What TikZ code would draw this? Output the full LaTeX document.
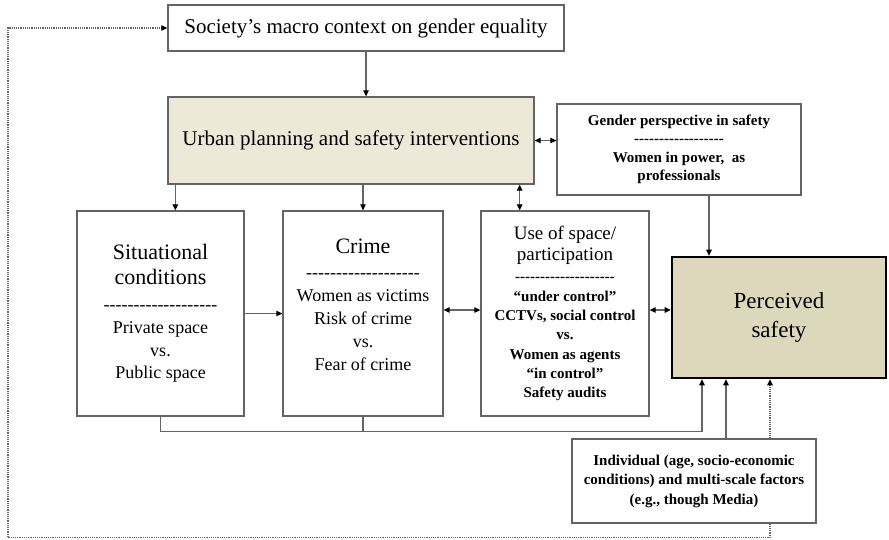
\documentclass[tikz,border=0pt]{standalone}
\usepackage{fontspec}
\setmainfont{Liberation Serif}
\usepackage{tikz}
\usetikzlibrary{arrows.meta,positioning,calc}
\definecolor{planningtan}{RGB}{236,233,216}
\definecolor{safetytan}{RGB}{221,215,188}
\definecolor{linegray}{RGB}{100,100,100}
\newcommand{\sepline}[1]{\foreach \k in {1,...,#1}{\mbox{-}}}
\newcommand{\hd}[1]{{\fontsize{22}{26}\selectfont #1}}
\newcommand{\uhd}[1]{{\mdseries\fontsize{19}{22}\selectfont #1}}

\begin{document}
\begin{tikzpicture}[x=1pt, y=-1pt,
    box/.style={draw=linegray, line width=1.3pt, align=center, inner sep=2pt},
    link/.style={draw=linegray, line width=1.2pt},
    arr/.style={link, -{Triangle[length=6pt,width=5.5pt,black]}},
    dbl/.style={link, {Triangle[length=6pt,width=5.5pt,black]}-{Triangle[length=6pt,width=5.5pt,black]}},
    dotarr/.style={arr, densely dotted}]
    \path[use as bounding box] (0,0) rectangle (889,539);

    % boxes
    \node[box, minimum width=396pt, minimum height=46pt, font=\fontsize{21}{25}\selectfont] (society) at (366,28) {Society’s macro context on gender equality};
    \node[box, fill=planningtan, minimum width=366pt, minimum height=87pt, font=\fontsize{21}{25}\selectfont] (urban) at (351,140.5) {Urban planning and safety interventions};
    \node[box, minimum width=244pt, minimum height=91pt, font=\bfseries\fontsize{15}{18.5}\selectfont] (gender) at (679,149.5) {Gender perspective in safety\\\sepline{18}\\Women in power,~ as\\professionals};
    \node[box, minimum width=167pt, minimum height=205pt, font=\fontsize{18}{22.5}\selectfont] (situational) at (160.5,313.5) {\hd{Situational}\\[3pt]\hd{conditions}\\[3pt]\sepline{19}\\[1pt]Private space\\vs.\\Public space};
    \node[box, minimum width=160pt, minimum height=205pt, font=\fontsize{18}{23}\selectfont] (crime) at (363,313.5) {\hd{Crime}\\[2pt]\sepline{19}\\Women as victims\\Risk of crime\\vs.\\Fear of crime\\[-6pt]~};
    \node[box, minimum width=168pt, minimum height=205pt, font=\bfseries\fontsize{15}{19.3}\selectfont] (usespace) at (565,313.5) {\uhd{Use of space/}\\[2pt]\uhd{participation}\\[2pt]\sepline{20}\\``under control''\\CCTVs, social control\\vs.\\Women as agents\\``in control''\\Safety audits};
    \node[box, draw=black, line width=2.6pt, fill=safetytan, minimum width=214pt, minimum height=121pt, font=\fontsize{23}{29}\selectfont] (perceived) at (779,317.5) {Perceived\\safety};
    \node[box, minimum width=244pt, minimum height=84pt, font=\bfseries\fontsize{15}{19.5}\selectfont] (individual) at (694,481) {Individual (age, socio-economic\\conditions) and multi-scale factors\\(e.g., though Media)};

    % tap points
    \coordinate (u1) at ([xshift=8pt]urban.south west);
    \coordinate (u3) at ([xshift=-15pt]urban.south east);
    \coordinate (g1) at ([xshift=30pt]gender.south);
    \coordinate (c1) at ([yshift=3.5pt]crime.east);
    \coordinate (s1) at ([yshift=3.5pt]usespace.east);
    \coordinate (p1) at ([xshift=-77pt]perceived.south);
    \coordinate (p2) at ([xshift=-53pt]perceived.south);
    \coordinate (p3) at ([xshift=-9pt]perceived.south);
    \coordinate (loopleft) at (8,300);

    % connectors
    \draw[arr] (society.south) -- (society.south |- urban.north);
    \draw[dbl] (urban.east) -- (urban.east -| gender.west);
    \draw[arr] (u1) -- (u1 |- situational.north);
    \draw[arr] (urban.south -| crime.north) -- (crime.north);
    \draw[dbl] (u3) -- (u3 |- usespace.north);
    \draw[arr] (g1) -- (g1 |- perceived.north);
    \draw[arr] (situational.east) -- (situational.east -| crime.west);
    \draw[dbl] (c1) -- (c1 -| usespace.west);
    \draw[dbl] (s1) -- (s1 -| perceived.west);
    \draw[arr] (situational.south) -- ++(0,15) coordinate (bus) -| (p1);
    \draw[link] (crime.south) -- (crime.south |- bus);
    \draw[arr] (individual.north -| p2) -- (p2);
    \draw[dotarr] (individual.north -| p3) -- (p3);
    \draw[dotarr] (individual.south -| p3) -- ++(0,14) -| (loopleft) |- (society.west);
\end{tikzpicture}
\end{document}
